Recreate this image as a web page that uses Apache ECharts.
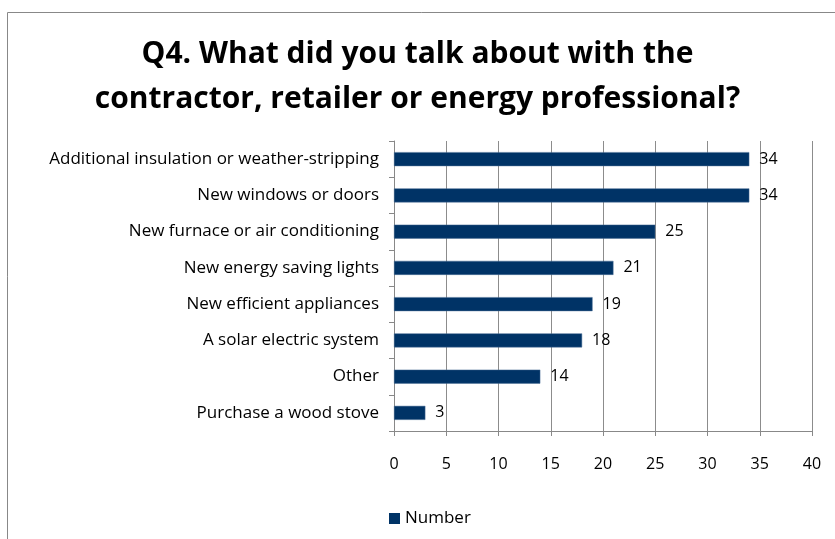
<!DOCTYPE html>
<html><head><meta charset="utf-8">
<script src="https://cdn.jsdelivr.net/npm/echarts@6/dist/echarts.min.js"></script>
<style>html,body{margin:0;padding:0;background:#fff}#c{width:835px;height:539px}</style>
</head><body><div id="c"></div>
<script>
const categories = [
  "Additional insulation or weather-stripping",
  "New windows or doors",
  "New furnace or air conditioning",
  "New energy saving lights",
  "New efficient appliances",
  "A solar electric system",
  "Other",
  "Purchase a wood stove"
];
const values = [34, 34, 25, 21, 19, 18, 14, 3];
const seriesName = "Number";
const chart = echarts.init(document.getElementById('c'));
const font = "'Open Sans', 'Noto Sans', sans-serif";
chart.setOption({
  animation: false,
  graphic: [{type:'rect', shape:{x:7.5,y:12.5,width:900,height:600}, style:{fill:'none', stroke:'#888', lineWidth:1}, silent:true}],
  title: {
    text: "Q4. What did you talk about with the\ncontractor, retailer or energy professional?",
    left: 'center', top: 27,
    textStyle: {fontFamily: font, fontWeight: 'bold', fontSize: 30, lineHeight: 45, color: '#000'}
  },
  legend: {
    top: 505, left: 384, itemWidth: 11, itemHeight: 11, icon: 'rect', itemGap: 6,
    itemStyle: {borderWidth: 0},
    textStyle: {fontFamily: font, fontSize: 17, color: '#000'}
  },
  grid: {left: 394, right: 23, top: 141, bottom: 108},
  xAxis: {
    type: 'value', min: 0, max: 40, interval: 5,
    axisLine: {show: true, lineStyle: {color: '#888'}},
    axisTick: {show: true, length: 5, lineStyle: {color: '#888'}},
    axisLabel: {fontFamily: font, fontSize: 16, color: '#000', margin: 25},
    splitLine: {show: true, lineStyle: {color: '#8c8c8c'}}
  },
  yAxis: {
    type: 'category', data: categories, inverse: true,
    axisLine: {show: true, lineStyle: {color: '#888'}},
    axisTick: {show: true, length: 5, lineStyle: {color: '#888'}},
    axisLabel: {fontFamily: font, fontSize: 17, color: '#000', margin: 15}
  },
  series: [{
    name: seriesName, type: 'bar', data: values, barWidth: 14,
    itemStyle: {color: '#003366', borderColor: '#4a6f96', borderWidth: 0.5},
    label: {show: true, position: 'right', distance: 10, fontFamily: font, fontSize: 16, color: '#000'}
  }]
});
</script></body></html>
